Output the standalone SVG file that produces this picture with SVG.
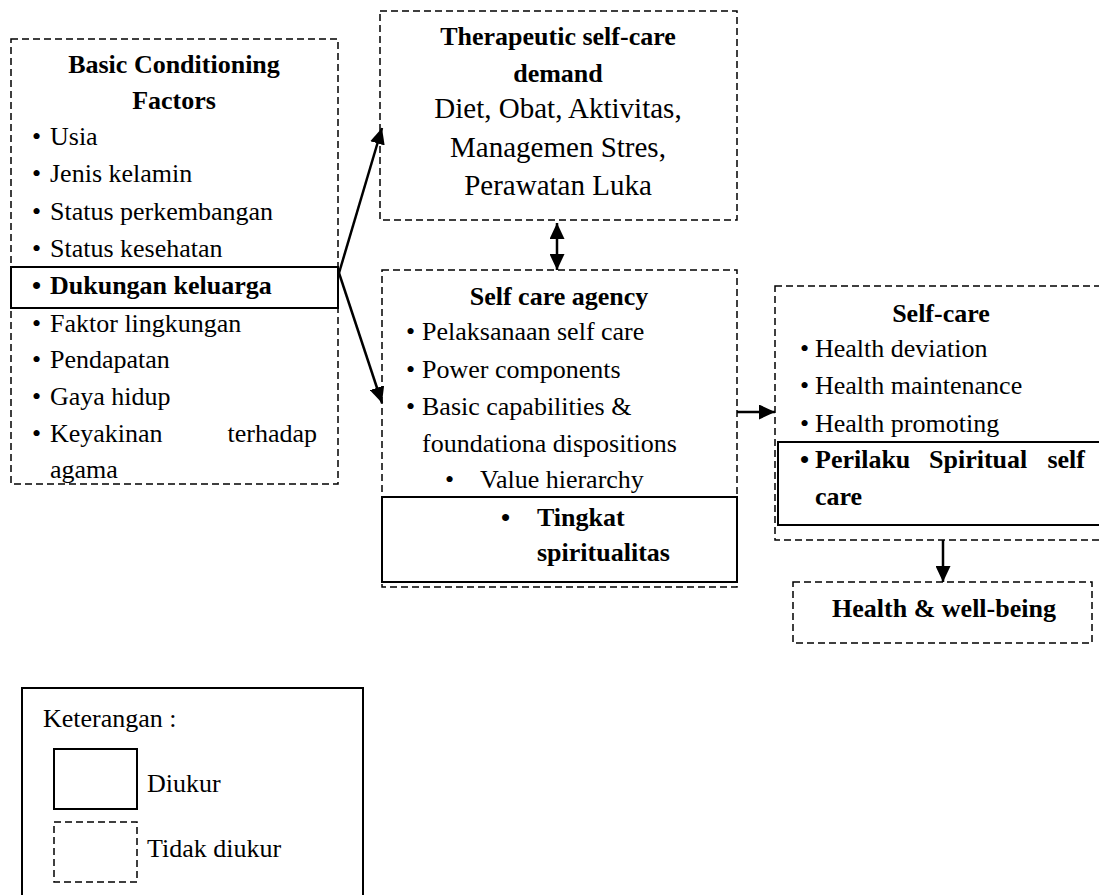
<svg xmlns="http://www.w3.org/2000/svg" width="1099" height="895" viewBox="0 0 1099 895" font-family="'Liberation Serif', Tinos, 'Times New Roman', 'DejaVu Serif', serif">
<style>
text{font-family:'Liberation Serif',Tinos,'Times New Roman','DejaVu Serif',serif;font-size:26px;fill:#000}
.b{font-weight:bold}
.c{text-anchor:middle}
.big{font-size:29px}
.d{fill:none;stroke:#000;stroke-width:1.5;stroke-dasharray:7 4}
.s{fill:none;stroke:#000;stroke-width:2}
.a{fill:none;stroke:#000;stroke-width:2.5}
</style>
<defs>
<marker id="ah" markerUnits="userSpaceOnUse" markerWidth="17" markerHeight="15" refX="16" refY="7.5" orient="auto-start-reverse">
<path d="M0,0 L16,7.5 L0,15 z" fill="#000"/>
</marker>
</defs>
<rect width="1099" height="895" fill="#fff"/>

<g id="bcf">
<rect class="d" x="11" y="39" width="327" height="445"/>
<rect class="s" x="11" y="267" width="327" height="41"/>
<text class="b c" x="174" y="73">Basic Conditioning</text>
<text class="b c" x="174" y="109">Factors</text>
<text x="32" y="145">•</text><text x="50" y="145">Usia</text>
<text x="32" y="182">•</text><text x="50" y="182">Jenis kelamin</text>
<text x="32" y="220">•</text><text x="50" y="220">Status perkembangan</text>
<text x="32" y="257">•</text><text x="50" y="257">Status kesehatan</text>
<text class="b" x="32" y="294">•</text><text class="b" x="50" y="294">Dukungan keluarga</text>
<text x="32" y="332">•</text><text x="50" y="332">Faktor lingkungan</text>
<text x="32" y="368">•</text><text x="50" y="368">Pendapatan</text>
<text x="32" y="405">•</text><text x="50" y="405">Gaya hidup</text>
<text x="32" y="442">•</text><text x="50" y="442">Keyakinan</text><text x="317" y="442" text-anchor="end">terhadap</text>
<text x="50" y="478">agama</text>
</g>

<g id="tscd">
<rect class="d" x="380" y="11" width="357" height="209"/>
<text class="b c" x="558" y="45">Therapeutic self-care</text>
<text class="b c" x="558" y="82">demand</text>
<text class="c big" x="558" y="118">Diet, Obat, Aktivitas,</text>
<text class="c big" x="558" y="157">Managemen Stres,</text>
<text class="c big" x="558" y="195">Perawatan Luka</text>
</g>

<g id="sca">
<rect class="d" x="382" y="270" width="355" height="317"/>
<rect class="s" x="382" y="497" width="355" height="85"/>
<text class="b c" x="559" y="305">Self care agency</text>
<text x="406" y="340">•</text><text x="422" y="340">Pelaksanaan self care</text>
<text x="406" y="378">•</text><text x="422" y="378">Power components</text>
<text x="406" y="415">•</text><text x="422" y="415">Basic capabilities &amp;</text>
<text x="422" y="452">foundationa dispositions</text>
<text x="445" y="488">•</text><text x="480" y="488">Value hierarchy</text>
<text class="b" x="501" y="526">•</text><text class="b" x="537" y="526">Tingkat</text>
<text class="b" x="537" y="561">spiritualitas</text>
</g>

<g id="selfcare">
<rect class="d" x="775" y="286" width="332" height="254"/>
<rect class="s" x="778" y="442" width="329" height="83"/>
<text class="b c" x="941" y="322">Self-care</text>
<text x="800" y="357">•</text><text x="815" y="357">Health deviation</text>
<text x="800" y="394">•</text><text x="815" y="394">Health maintenance</text>
<text x="800" y="432">•</text><text x="815" y="432">Health promoting</text>
<text class="b" x="800" y="468">•</text><text class="b" x="815" y="468">Perilaku</text><text class="b" x="929" y="468">Spiritual</text><text class="b" x="1085" y="468" text-anchor="end">self</text>
<text class="b" x="815" y="505">care</text>
</g>

<g id="health">
<rect class="d" x="793" y="582" width="299" height="61"/>
<text class="b c" x="944" y="617">Health &amp; well-being</text>
</g>

<g id="connectors">
<line class="a" x1="339" y1="273" x2="382" y2="128" marker-end="url(#ah)"/>
<line class="a" x1="339" y1="273" x2="382" y2="403" marker-end="url(#ah)"/>
<line class="a" x1="557" y1="223" x2="557" y2="270" marker-start="url(#ah)" marker-end="url(#ah)"/>
<line class="a" x1="737" y1="412" x2="775" y2="412" marker-end="url(#ah)"/>
<line class="a" x1="943" y1="540" x2="943" y2="582" marker-end="url(#ah)"/>
</g>

<g id="legend">
<rect class="s" x="22" y="688" width="341" height="215"/>
<text x="43" y="727">Keterangan :</text>
<rect class="s" x="54" y="749" width="83" height="60"/>
<text x="147" y="792">Diukur</text>
<rect class="d" x="54" y="822" width="83" height="60"/>
<text x="147" y="857">Tidak diukur</text>
</g>
</svg>
